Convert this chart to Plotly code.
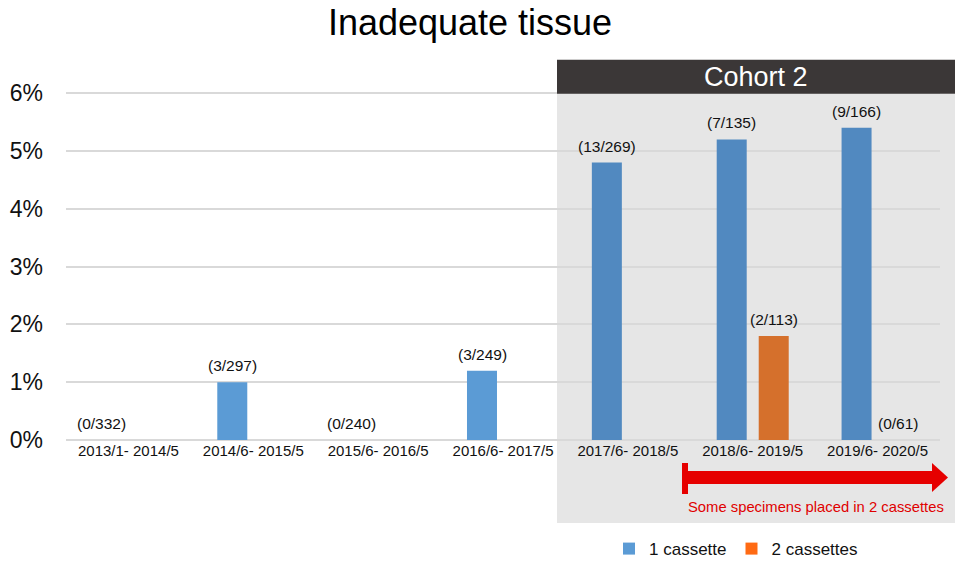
import plotly.graph_objects as go

categories = ["2013/1- 2014/5", "2014/6- 2015/5", "2015/6- 2016/5", "2016/6- 2017/5",
              "2017/6- 2018/5", "2018/6- 2019/5", "2019/6- 2020/5"]
one_cassette = [0, 1.0, 0, 1.2, 4.8, 5.2, 5.4]
one_labels = ["(0/332)", "(3/297)", "(0/240)", "(3/249)", "(13/269)", "(7/135)", "(9/166)"]
two_cassettes = [None, None, None, None, None, 1.8, 0]
two_labels = ["", "", "", "", "", "(2/113)", "(0/61)"]
y_ticks = [0, 1, 2, 3, 4, 5, 6]
y_tick_labels = ["0%", "1%", "2%", "3%", "4%", "5%", "6%"]

FONT = "Liberation Sans, Arial, sans-serif"
blue_c1 = "#5B9BD5"
blue_c2 = "#5189C0"
orange_leg = "#FF6A13"
orange_c2 = "#D5702C"

blue_colors = [blue_c1] * 4 + [blue_c2] * 3
orange_colors = [orange_leg] * 5 + [orange_c2] * 2

fig = go.Figure()
fig.add_trace(go.Bar(x=categories, y=one_cassette, name="1 cassette",
                     marker=dict(color=blue_colors, line=dict(width=0))))
fig.add_trace(go.Bar(x=categories, y=two_cassettes, name="2 cassettes",
                     marker=dict(color=orange_colors, line=dict(width=0))))

annotations = []
for i, (cat, v, lab) in enumerate(zip(categories, one_cassette, one_labels)):
    if lab:
        shift = -21 if v > 0 else -27
        annotations.append(dict(x=cat, y=v, text=lab, showarrow=False, xref="x", yref="y",
                                xanchor="center", yanchor="bottom", xshift=shift, yshift=6,
                                font=dict(family=FONT, size=15.5, color="#111111")))
for cat, v, lab in zip(categories, two_cassettes, two_labels):
    if lab:
        annotations.append(dict(x=cat, y=v, text=lab, showarrow=False, xref="x", yref="y",
                                xanchor="center", yanchor="bottom", xshift=21, yshift=6,
                                font=dict(family=FONT, size=15.5, color="#111111")))

# layout geometry (plot area: x 66..940, y 92..440)
YMAX = 6.02
L, R, B = 66, 940, 440
T = 440 - (440 - 93.3) * YMAX / 6
def px(x):
    return (x - L) / (R - L)
def py(y):
    return (B - y) / (B - T)

annotations.append(dict(x=px(756), y=py(77), xref="paper", yref="paper", text="Cohort 2",
                        showarrow=False, xanchor="center", yanchor="middle",
                        font=dict(family=FONT, size=27, color="white")))
annotations.append(dict(x=px(816), y=py(507), xref="paper", yref="paper",
                        text="Some specimens placed in 2 cassettes",
                        showarrow=False, xanchor="center", yanchor="middle",
                        font=dict(family=FONT, size=14.8, color="#E00000")))

shapes = [
    dict(type="rect", xref="paper", yref="paper", x0=px(557), x1=px(955), y0=py(523), y1=py(94),
         fillcolor="#E6E6E6", line=dict(width=0), layer="below"),
    dict(type="rect", xref="paper", yref="paper", x0=px(557), x1=px(955), y0=py(94), y1=py(60),
         fillcolor="#3B3737", line=dict(width=0), layer="above"),
    dict(type="rect", xref="paper", yref="paper", x0=px(686), x1=px(935), y0=py(484), y1=py(471),
         fillcolor="#E60000", line=dict(width=0), layer="above"),
    dict(type="rect", xref="paper", yref="paper", x0=px(682), x1=px(688), y0=py(494), y1=py(463),
         fillcolor="#E60000", line=dict(width=0), layer="above"),
    dict(type="path", xref="paper", yref="paper",
         path=f"M {px(932)} {py(463)} L {px(948)} {py(477.5)} L {px(932)} {py(492)} Z",
         fillcolor="#E60000", line=dict(width=0), layer="above"),
]

fig.update_layout(
    width=957, height=563,
    margin=dict(l=L, r=957 - R, t=T, b=563 - B, pad=0, autoexpand=False),
    paper_bgcolor="white", plot_bgcolor="rgba(0,0,0,0)",
    barmode="group", bargap=0.327, bargroupgap=0.286,
    title=dict(text="Inadequate tissue", x=470 / 957, xref="container", xanchor="center",
               y=1 - 22 / 563, yanchor="middle",
               font=dict(family=FONT, size=36, color="black")),
    font=dict(family=FONT, color="#111111"),
    showlegend=True,
    legend=dict(orientation="h", x=px(609), y=py(549), xanchor="left", yanchor="middle",
                font=dict(family=FONT, size=17, color="#111111"), bgcolor="rgba(0,0,0,0)",
                traceorder="normal", itemwidth=30),
    annotations=annotations,
    shapes=shapes,
)
fig.update_xaxes(showgrid=False, showline=False, zeroline=False, ticks="",
                 tickfont=dict(family=FONT, size=15, color="#111111"), tickangle=0,
                 fixedrange=True)
fig.update_yaxes(range=[0, YMAX], tickvals=y_ticks, ticktext=y_tick_labels,
                 showgrid=True, gridcolor="#D9D9D9", gridwidth=1.5,
                 zeroline=True, zerolinecolor="#D9D9D9", zerolinewidth=1.5,
                 showline=False, ticks="", ticklabelstandoff=22,
                 tickfont=dict(family=FONT, size=23, color="#111111"), fixedrange=True)

fig.write_html("out.html", config={"displayModeBar": False},
               post_script="document.body.style.margin='0';document.body.style.overflow='hidden';")
